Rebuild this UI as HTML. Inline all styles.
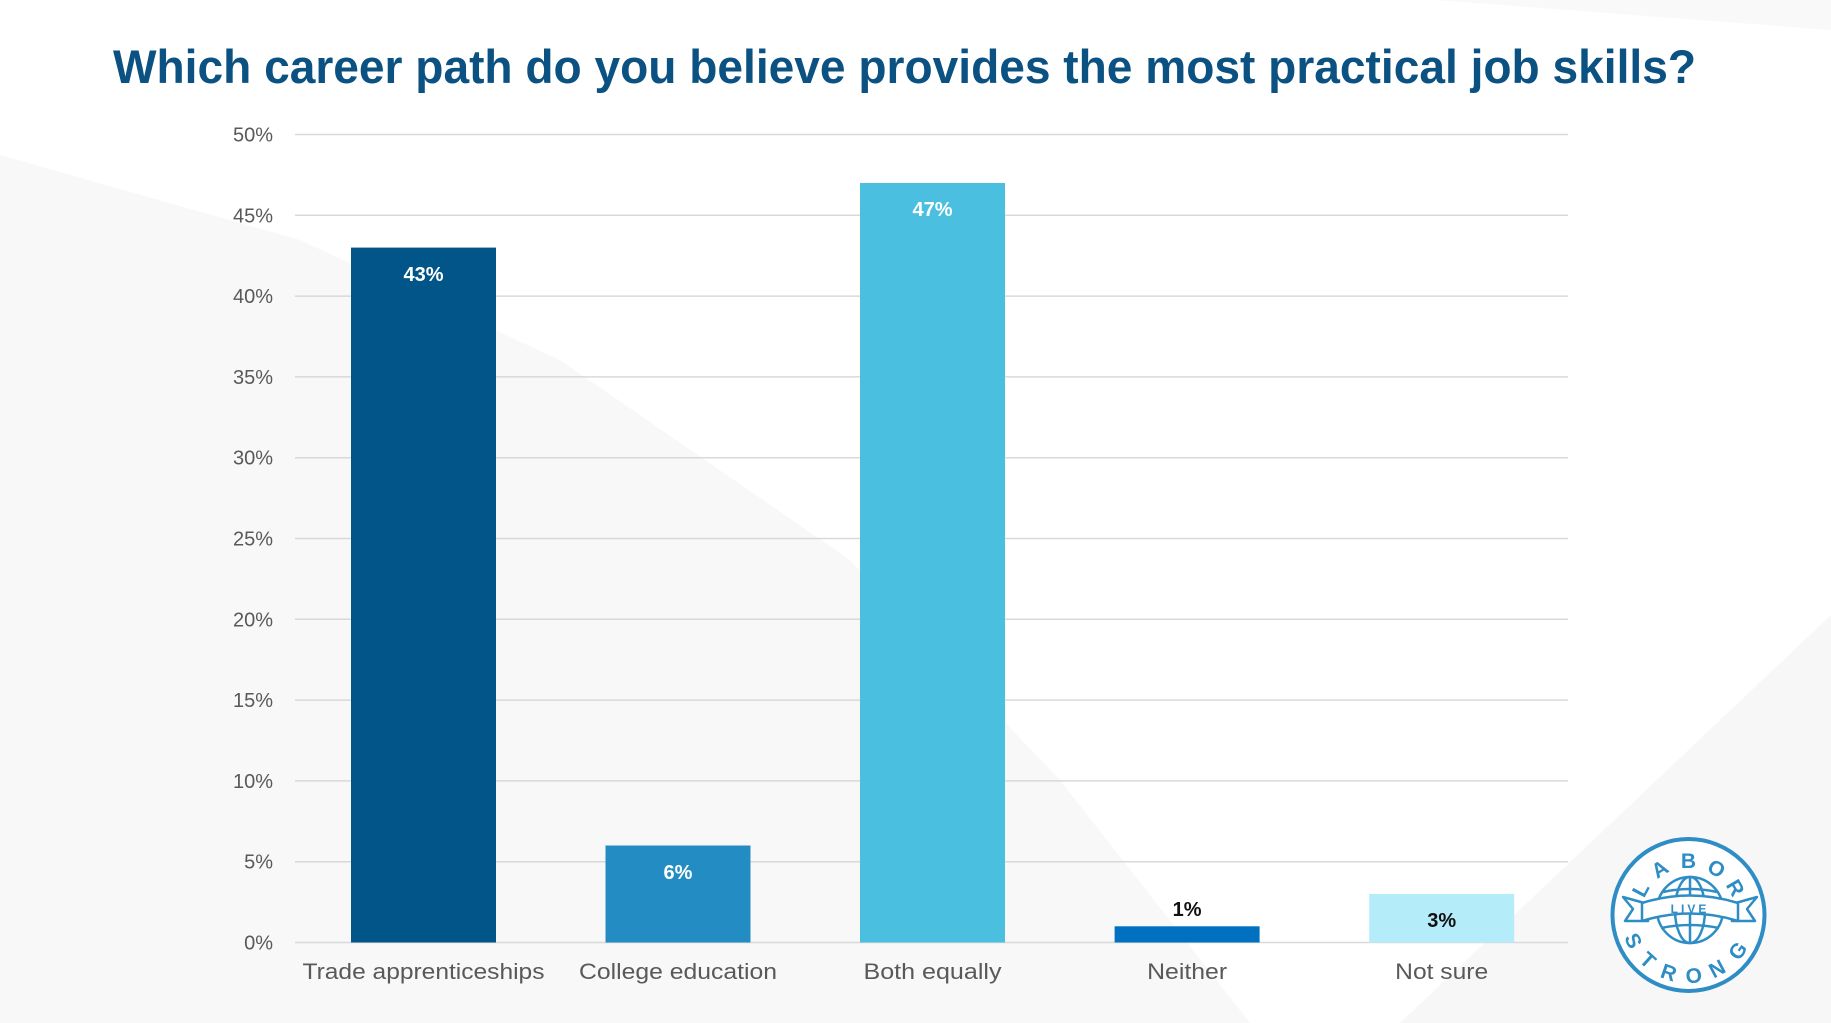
<!DOCTYPE html>
<html>
<head>
<meta charset="utf-8">
<style>
  html,body{margin:0;padding:0;background:#ffffff;}
  body{width:1831px;height:1023px;overflow:hidden;}
  svg{display:block;}
  .tick{font-family:"Liberation Sans",sans-serif;font-size:20px;fill:#595959;}
  .cat{font-family:"Liberation Sans",sans-serif;font-size:22px;fill:#595959;}
  .dl{font-family:"Liberation Sans",sans-serif;font-size:20px;font-weight:bold;}
  .logo{font-family:"Liberation Sans",sans-serif;font-weight:bold;fill:#2E8DC5;}
</style>
</head>
<body>
<svg width="1831" height="1023" viewBox="0 0 1831 1023" xmlns="http://www.w3.org/2000/svg">
  <!-- background -->
  <rect x="0" y="0" width="1831" height="1023" fill="#ffffff"/>
  <polygon points="0,155 300,240 560,360 850,560 1060,780 1250,1023 0,1023" fill="#f8f8f8"/>
  <polygon points="1436,0 1831,0 1831,30" fill="#f9f9f9"/>
  <polygon points="1831,615 1831,1023 1400,1023" fill="#f7f7f7"/>

  <!-- title -->
  <text x="113" y="83" textLength="1583" lengthAdjust="spacingAndGlyphs"
        style="font-family:'Liberation Sans',sans-serif;font-size:47px;font-weight:bold;fill:#0B5283;">Which career path do you believe provides the most practical job skills?</text>

  <!-- gridlines -->
  <g stroke="#d9d9d9" stroke-width="1.5">
    <line x1="295" y1="134.5" x2="1568" y2="134.5"/>
    <line x1="295" y1="215.3" x2="1568" y2="215.3"/>
    <line x1="295" y1="296.1" x2="1568" y2="296.1"/>
    <line x1="295" y1="376.9" x2="1568" y2="376.9"/>
    <line x1="295" y1="457.7" x2="1568" y2="457.7"/>
    <line x1="295" y1="538.5" x2="1568" y2="538.5"/>
    <line x1="295" y1="619.3" x2="1568" y2="619.3"/>
    <line x1="295" y1="700.1" x2="1568" y2="700.1"/>
    <line x1="295" y1="780.9" x2="1568" y2="780.9"/>
    <line x1="295" y1="861.7" x2="1568" y2="861.7"/>
    <line x1="295" y1="942.5" x2="1568" y2="942.5"/>
  </g>

  <!-- tick labels -->
  <g class="tick" text-anchor="end">
    <text x="273" y="141.5">50%</text>
    <text x="273" y="222.3">45%</text>
    <text x="273" y="303.1">40%</text>
    <text x="273" y="383.9">35%</text>
    <text x="273" y="464.7">30%</text>
    <text x="273" y="545.5">25%</text>
    <text x="273" y="626.3">20%</text>
    <text x="273" y="707.1">15%</text>
    <text x="273" y="787.9">10%</text>
    <text x="273" y="868.7">5%</text>
    <text x="273" y="949.5">0%</text>
  </g>

  <!-- bars -->
  <rect x="351" y="247.6" width="145" height="694.9" fill="#015588"/>
  <rect x="605.5" y="845.5" width="145" height="97" fill="#238DC3"/>
  <rect x="860" y="183" width="145" height="759.5" fill="#4BBFDF"/>
  <rect x="1114.6" y="926.3" width="145" height="16.2" fill="#0070C0"/>
  <rect x="1369.2" y="894" width="145" height="48.5" fill="#B5ECFA"/>

  <!-- data labels -->
  <g class="dl" text-anchor="middle">
    <text x="423.5" y="281" fill="#ffffff">43%</text>
    <text x="678" y="879" fill="#ffffff">6%</text>
    <text x="932.5" y="216" fill="#ffffff">47%</text>
    <text x="1187.1" y="916" fill="#111111">1%</text>
    <text x="1441.7" y="927" fill="#111111">3%</text>
  </g>

  <!-- category labels -->
  <g class="cat" text-anchor="middle">
    <text x="423.5" y="979" textLength="242" lengthAdjust="spacingAndGlyphs">Trade apprenticeships</text>
    <text x="678" y="979" textLength="198" lengthAdjust="spacingAndGlyphs">College education</text>
    <text x="932.5" y="979" textLength="138" lengthAdjust="spacingAndGlyphs">Both equally</text>
    <text x="1187.1" y="979" textLength="80" lengthAdjust="spacingAndGlyphs">Neither</text>
    <text x="1441.7" y="979" textLength="93" lengthAdjust="spacingAndGlyphs">Not sure</text>
  </g>

  <!-- logo -->
  <g>
    <circle cx="1688.5" cy="915" r="76" fill="#ffffff" stroke="#2E8DC5" stroke-width="4"/>
    <!-- LABOR (top), letters centered at radius 55 -->
    <g class="logo" font-size="21" text-anchor="middle">
      <text transform="translate(1688.5,915) rotate(-62) translate(0,-55)" y="8">L</text>
      <text transform="translate(1688.5,915) rotate(-32) translate(0,-55)" y="8">A</text>
      <text transform="translate(1688.5,915) rotate(0) translate(0,-55)" y="8">B</text>
      <text transform="translate(1688.5,915) rotate(31) translate(0,-55)" y="8">O</text>
      <text transform="translate(1688.5,915) rotate(60) translate(0,-55)" y="8">R</text>
    </g>
    <!-- STRONG (bottom), letters centered at radius 60 -->
    <g class="logo" font-size="21" text-anchor="middle">
      <text transform="translate(1688.5,915) rotate(65) translate(0,60)" y="8">S</text>
      <text transform="translate(1688.5,915) rotate(42) translate(0,60)" y="8">T</text>
      <text transform="translate(1688.5,915) rotate(19) translate(0,60)" y="8">R</text>
      <text transform="translate(1688.5,915) rotate(-5) translate(0,60)" y="8">O</text>
      <text transform="translate(1688.5,915) rotate(-28) translate(0,60)" y="8">N</text>
      <text transform="translate(1688.5,915) rotate(-54) translate(0,60)" y="8">G</text>
    </g>
    <!-- globe -->
    <g fill="none" stroke="#2E8DC5" stroke-width="2.5">
      <circle cx="1690" cy="910" r="33"/>
      <ellipse cx="1690" cy="910" rx="15" ry="33"/>
      <line x1="1690" y1="877" x2="1690" y2="943"/>
      <path d="M1663 892 Q1690 886 1717 892"/>
      <path d="M1661 928 Q1690 922 1719 928"/>
    </g>
    <!-- banner tails -->
    <path d="M1648 904 L1623 897 L1633 909 L1625 921 L1648 921 Z" fill="#ffffff" stroke="#2E8DC5" stroke-width="2.5" stroke-linejoin="round"/>
    <path d="M1732 904 L1757 897 L1747 909 L1755 921 L1732 921 Z" fill="#ffffff" stroke="#2E8DC5" stroke-width="2.5" stroke-linejoin="round"/>
    <!-- banner band -->
    <path d="M1642 903 Q1690 888 1738 903 L1738 921 Q1690 906 1642 921 Z" fill="#ffffff" stroke="#2E8DC5" stroke-width="2.5" stroke-linejoin="round"/>
    <text x="1690" y="913" text-anchor="middle" class="logo" font-size="12" letter-spacing="3" font-weight="normal">LIVE</text>
  </g>
</svg>
</body>
</html>
